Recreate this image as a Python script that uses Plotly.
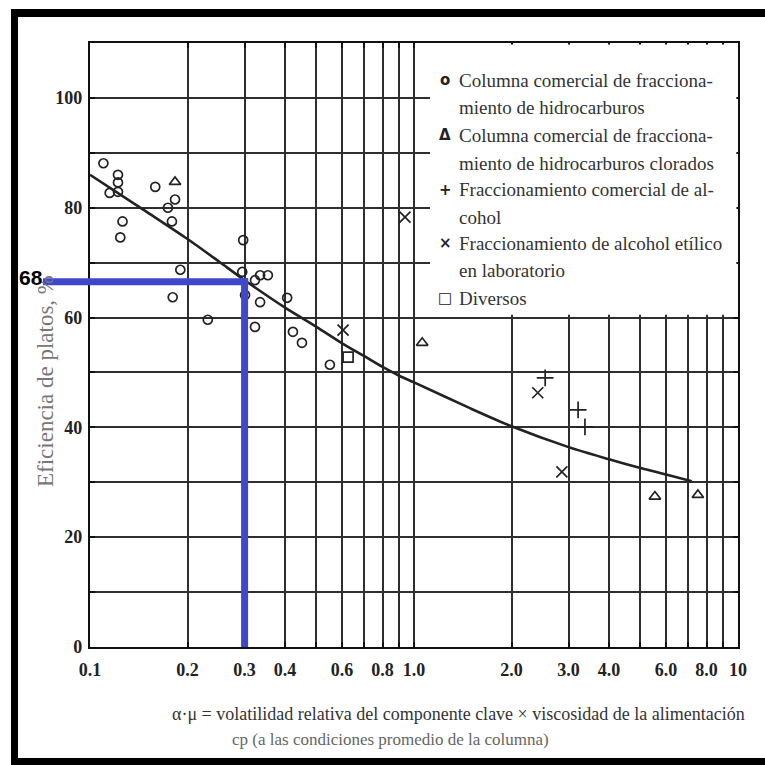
import math
import plotly.graph_objects as go

# ---------------- data ----------------
circle_x = [0.110, 0.122, 0.122, 0.115, 0.122, 0.126, 0.124, 0.159, 0.183, 0.174,
            0.179, 0.190, 0.180, 0.231, 0.297, 0.295, 0.301, 0.323, 0.335, 0.354,
            0.335, 0.323, 0.406, 0.423, 0.451, 0.550]
circle_y = [88.1, 86.0, 84.6, 82.7, 82.9, 77.5, 74.6, 83.8, 81.5, 80.0,
            77.5, 68.7, 63.7, 59.6, 74.1, 68.3, 64.1, 66.8, 67.7, 67.7,
            62.8, 58.3, 63.6, 57.4, 55.4, 51.4]

triangle_x = [0.183, 1.06, 5.54, 7.52]
triangle_y = [84.7, 55.4, 27.4, 27.7]

plus_x = [2.54, 3.21, 3.37]
plus_y = [49.0, 43.2, 40.1]

cross_x = [0.938, 0.604, 2.41, 2.86]
cross_y = [78.3, 57.7, 46.3, 31.9]

square_x = [0.626]
square_y = [52.8]

curve_x = [0.1, 0.15, 0.2, 0.25, 0.3, 0.4, 0.5, 0.6, 0.7, 0.8, 0.9, 1.0, 1.5,
           2.0, 3.0, 4.0, 5.0, 6.0, 7.2]
curve_y = [86.0, 79.2, 74.3, 70.2, 66.8, 61.8, 58.3, 55.3, 53.0, 51.0, 49.4, 48.2, 43.4,
           40.2, 36.4, 34.2, 32.6, 31.4, 30.2]

mark_x = 0.3
mark_y = 66.5
mark_label = "68"

x_tickvals = [0.1, 0.2, 0.3, 0.4, 0.6, 0.8, 1, 2, 3, 4, 6, 8, 10]
x_ticktext = ["0.1", "0.2", "0.3", "0.4", "0.6", "0.8", "1.0", "2.0", "3.0", "4.0", "6.0", "8.0", "10"]
x_minor = [0.5, 0.7, 0.9, 5, 7, 9]
y_tickvals = [0, 20, 40, 60, 80, 100]
y_minor = [10, 30, 50, 70, 90]

legend_symbols = ["o", "Δ", "+", "×", "□"]
legend_lines = [
    ["Columna comercial de fracciona-", "miento de hidrocarburos"],
    ["Columna comercial de fracciona-", "miento de hidrocarburos clorados"],
    ["Fraccionamiento comercial de al-", "cohol"],
    ["Fraccionamiento de alcohol etílico", "en laboratorio"],
    ["Diversos"],
]
series_names = [" ".join(l) for l in legend_lines]

x_title_1 = "α·μ = volatilidad relativa del componente clave × viscosidad de la alimentación"
x_title_2 = "cp (a las condiciones promedio de la columna)"
y_title = "Eficiencia de platos, %"

# ---------------- layout helpers ----------------
W = H = 765
L, R, T, B = 90, 27, 43, 118
PW, PH = W - L - R, H - T - B
XMIN, XMAX = 0.1, 10
YMIN, YMAX = 0, 110


def px(x):
    return (x - L) / PW


def py(y):
    return (H - B - y) / PH


def xpaper(v):
    return (math.log10(v) - math.log10(XMIN)) / (math.log10(XMAX) - math.log10(XMIN))


INK = "#222222"
GRID = "#2e2e2e"
BLUE = "#3f48cc"

fig = go.Figure()

marker_line = dict(color=INK, width=1.7)
fig.add_trace(go.Scatter(x=curve_x, y=curve_y, mode="lines", name="Correlación",
                         line=dict(color=INK, width=2.6, shape="spline", smoothing=0.8),
                         showlegend=False))
fig.add_trace(go.Scatter(x=circle_x, y=circle_y, mode="markers", name=series_names[0],
                         marker=dict(symbol="circle-open", size=9, line=marker_line, color=INK),
                         showlegend=False))
fig.add_trace(go.Scatter(x=triangle_x, y=triangle_y, mode="markers", name=series_names[1],
                         marker=dict(symbol="triangle-up-open", size=10, line=marker_line, color=INK),
                         showlegend=False))
fig.add_trace(go.Scatter(x=plus_x, y=plus_y, mode="markers", name=series_names[2],
                         marker=dict(symbol="cross-thin-open", size=12, line=marker_line, color=INK),
                         showlegend=False))
fig.add_trace(go.Scatter(x=cross_x, y=cross_y, mode="markers", name=series_names[3],
                         marker=dict(symbol="x-thin-open", size=11, line=marker_line, color=INK),
                         showlegend=False))
fig.add_trace(go.Scatter(x=square_x, y=square_y, mode="markers", name=series_names[4],
                         marker=dict(symbol="square-open", size=10, line=marker_line, color=INK),
                         showlegend=False))

tickfont = dict(family="Liberation Serif", size=18, color=INK, weight="bold")

fig.update_xaxes(type="log", range=[math.log10(XMIN), math.log10(XMAX)],
                 tickvals=x_tickvals, ticktext=x_ticktext, tickfont=tickfont,
                 showgrid=True, gridcolor=GRID, gridwidth=1.6,
                 showline=True, linecolor="#111", linewidth=2.2, mirror="ticks",
                 ticks="inside", ticklen=5, tickcolor="#111", tickwidth=1.6,
                 ticklabelstandoff=5, zeroline=False,
                 minor=dict(tickvals=x_minor, showgrid=True, gridcolor=GRID, gridwidth=1.6,
                            ticks="inside", ticklen=5, tickcolor="#111", tickwidth=1.6))
fig.update_yaxes(range=[YMIN, YMAX], tickvals=y_tickvals, tickfont=tickfont,
                 showgrid=True, gridcolor=GRID, gridwidth=1.6,
                 showline=True, linecolor="#111", linewidth=2.2, mirror="ticks",
                 ticks="inside", ticklen=5, tickcolor="#111", tickwidth=1.6,
                 ticklabelstandoff=2, zeroline=False,
                 minor=dict(tickvals=y_minor, showgrid=True, gridcolor=GRID, gridwidth=1.6,
                            ticks="inside", ticklen=5, tickcolor="#111", tickwidth=1.6))

shapes = []
# blank legend area (covers the grid; no data lies there)
shapes.append(dict(type="rect", xref="paper", yref="y", x0=px(430), x1=1.0 - 1.6 / PW,
                   y0=60.5, y1=YMAX - 1.6 * (YMAX - YMIN) / PH,
                   fillcolor="white", line=dict(width=0), layer="above"))
# blue reading lines
half_px = 3.5
shapes.append(dict(type="line", xref="paper", yref="y", x0=px(43), x1=xpaper(mark_x) + half_px / PW,
                   y0=mark_y, y1=mark_y, line=dict(color=BLUE, width=7), layer="above"))
shapes.append(dict(type="line", xref="x", yref="y", x0=mark_x, x1=mark_x,
                   y0=YMIN, y1=mark_y + half_px * (YMAX - YMIN) / PH,
                   line=dict(color=BLUE, width=7), layer="above"))
# black frame (top, left, bottom)
shapes.append(dict(type="rect", xref="paper", yref="paper", x0=px(11), x1=px(766), y0=py(17), y1=py(9),
                   fillcolor="black", line=dict(width=0), layer="above"))
shapes.append(dict(type="rect", xref="paper", yref="paper", x0=px(11), x1=px(18), y0=py(766), y1=py(9),
                   fillcolor="black", line=dict(width=0), layer="above"))
shapes.append(dict(type="rect", xref="paper", yref="paper", x0=px(11), x1=px(766), y0=py(766), y1=py(758),
                   fillcolor="black", line=dict(width=0), layer="above"))

annotations = []
legend_font = dict(family="Liberation Serif", size=19, color="#333333")
row_y = [[80, 107], [135, 163], [190, 217], [243, 270], [298]]
for sym, lines, ys in zip(legend_symbols, legend_lines, row_y):
    annotations.append(dict(text=sym, xref="paper", yref="paper", x=px(445), y=py(ys[0]),
                            xanchor="center", yanchor="middle", showarrow=False,
                            font=dict(family="DejaVu Sans", size=15, color="#222", weight="bold")))
    for line, yy in zip(lines, ys):
        annotations.append(dict(text=line, xref="paper", yref="paper", x=px(457), y=py(yy),
                                xanchor="left", yanchor="middle", showarrow=False, font=legend_font))

annotations.append(dict(text=x_title_1, xref="paper", yref="paper", x=px(170), y=py(714),
                        xanchor="left", yanchor="middle", showarrow=False,
                        font=dict(family="Liberation Serif", size=18, color="#333")))
annotations.append(dict(text=x_title_2, xref="paper", yref="paper", x=px(230), y=py(739),
                        xanchor="left", yanchor="middle", showarrow=False,
                        font=dict(family="Liberation Serif", size=17, color="#666")))
annotations.append(dict(text=y_title, xref="paper", yref="paper", x=px(45), y=py(381),
                        xanchor="center", yanchor="middle", textangle=-90, showarrow=False,
                        font=dict(family="Liberation Serif", size=23, color="#777")))
annotations.append(dict(text=mark_label, xref="paper", yref="y", x=px(31), y=mark_y, yshift=4.5,
                        xanchor="center", yanchor="middle", showarrow=False,
                        font=dict(family="Liberation Sans", size=21, color="black", weight="bold")))

fig.update_layout(width=W, height=H, margin=dict(l=L, r=R, t=T, b=B, autoexpand=False),
                  paper_bgcolor="white", plot_bgcolor="white",
                  shapes=shapes, annotations=annotations, showlegend=False)

fig.write_html("out.html")
